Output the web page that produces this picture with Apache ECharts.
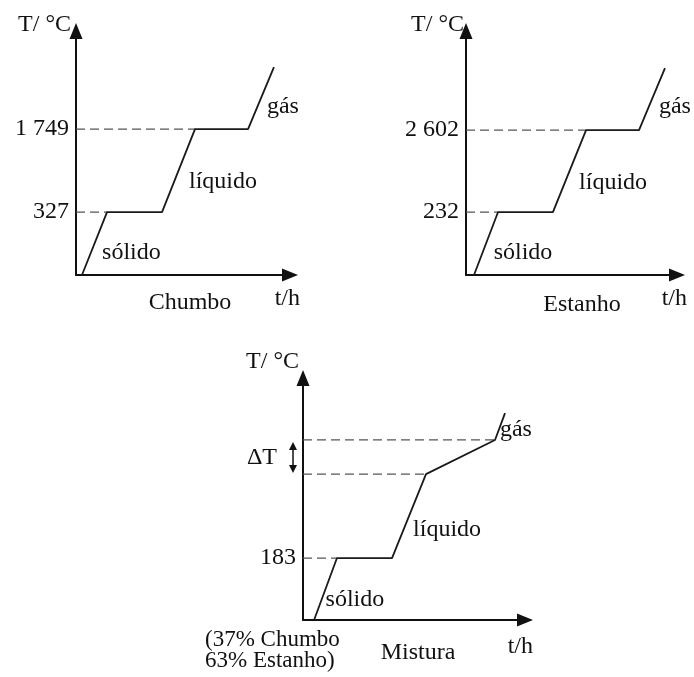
<!DOCTYPE html>
<html>
<head>
<meta charset="utf-8">
<script src="https://cdn.jsdelivr.net/npm/echarts@6/dist/echarts.min.js"></script>
<style>html,body{margin:0;padding:0;background:#fff}#main{width:694px;height:677px}</style>
</head>
<body>
<div id="main"></div>
<script>
// curvas de aquecimento (tempo e nivel em unidades do esquema, 0-100)
var chumboTempo = [2.8, 14.5, 40.2, 55.6, 80.4, 92.5];
var chumboNivel = [0, 25.8, 25.8, 59.8, 59.8, 85.2];
var chumboRotulos = ['327', '1 749'];
var estanhoTempo = [3.8, 15.2, 41.2, 56.9, 82, 94.3];
var estanhoNivel = [0, 25.8, 25.8, 59.4, 59.4, 84.8];
var estanhoRotulos = ['232', '2 602'];
var misturaTempo = [5, 15.3, 40.1, 55.4, 86.5, 91];
var misturaNivel = [0, 25.6, 25.6, 60.3, 74.4, 85.5];
var misturaRotulos = ['183'];
var deltaT = [-4.5, 73.6, 60.7];
var fases = ['sólido', 'líquido', 'gás'];
var chumboFasePos = [[25.9, 9], [68.7, 38.1], [96.7, 68.9]];
var estanhoFasePos = [[27, 9], [69.7, 37.7], [99, 68.9]];
var misturaFasePos = [[23.4, 8.3], [64.9, 37.2], [95.9, 78.5]];
var titulos = ['Chumbo', 'Estanho', 'Mistura'];
var composicao = '(37% Chumbo\n63% Estanho)';

var fonte = 'Liberation Serif';
var preto = '#111';

var myChart = echarts.init(document.getElementById('main'));

function eixoX(i, gap, pad){
    return {
        type: 'value', gridIndex: i, min: 0, max: 100,
        axisLine: {symbol: ['none', 'triangle'], symbolSize: [13, 16], lineStyle: {color: preto, width: 2}},
        axisTick: {show: false}, axisLabel: {show: false}, splitLine: {show: false},
        name: 't/h', nameLocation: 'end', nameGap: gap,
        nameTextStyle: {fontFamily: fonte, fontSize: 24, color: preto, align: 'right', verticalAlign: 'top', padding: [pad, 0, 0, 0]}
    };
}

function eixoY(i, marcas, rotulos, gap, padR){
    return {
        type: 'value', gridIndex: i, min: 0, max: 100,
        axisLine: {symbol: ['none', 'triangle'], symbolSize: [13, 16], lineStyle: {color: preto, width: 2}},
        axisTick: {show: false}, splitLine: {show: false},
        axisLabel: {
            customValues: marcas, margin: 7,
            fontFamily: fonte, fontSize: 24, color: preto,
            formatter: function(v){
                var k = 0;
                for (var j = 1; j < marcas.length; j++) if (Math.abs(marcas[j]-v) < Math.abs(marcas[k]-v)) k = j;
                return rotulos[k];
            }
        },
        name: 'T/ °C', nameLocation: 'end', nameGap: gap,
        nameTextStyle: {fontFamily: fonte, fontSize: 24, color: preto, align: 'right', verticalAlign: 'middle', padding: [0, padR, 0, 0]}
    };
}

function series(i, tempo, nivel, patamares, fasePos){
    var out = [];
    out.push({
        type: 'line', xAxisIndex: i, yAxisIndex: i, symbol: 'none', z: 4,
        data: tempo.map(function(t, k){ return [t, nivel[k]]; }),
        lineStyle: {color: '#1a1a1a', width: 1.8}
    });
    patamares.forEach(function(k){
        out.push({
            type: 'line', xAxisIndex: i, yAxisIndex: i, symbol: 'none', z: 3,
            data: [[0, nivel[k]], [tempo[k], nivel[k]]],
            lineStyle: {color: '#555', width: 1.3, type: [9, 5]}
        });
    });
    out.push({
        type: 'scatter', xAxisIndex: i, yAxisIndex: i, symbolSize: 0, clip: false, silent: true,
        itemStyle: {opacity: 1},
        data: fasePos.map(function(p, k){ return [p[0], p[1], fases[k]]; }),
        label: {show: true, position: 'inside', formatter: function(p){ return p.value[2]; },
            fontFamily: fonte, fontSize: 24, color: preto}
    });
    return out;
}

var allSeries = []
    .concat(series(0, chumboTempo, chumboNivel, [1, 3], chumboFasePos))
    .concat(series(1, estanhoTempo, estanhoNivel, [1, 3], estanhoFasePos))
    .concat(series(2, misturaTempo, misturaNivel, [1, 3, 4], misturaFasePos));

// seta dupla do intervalo de ebulição
allSeries.push({
    type: 'custom', xAxisIndex: 2, yAxisIndex: 2, clip: false, silent: true, z: 5,
    data: [deltaT],
    renderItem: function(params, api){
        var a = api.coord([api.value(0), api.value(1)]);
        var b = api.coord([api.value(0), api.value(2)]);
        var x = a[0], h = 8, w = 4;
        return {type: 'group', children: [
            {type: 'line', shape: {x1: x, y1: a[1] + h, x2: x, y2: b[1] - h}, style: {stroke: preto, lineWidth: 1.5}},
            {type: 'polygon', shape: {points: [[x, a[1]], [x - w, a[1] + h], [x + w, a[1] + h]]}, style: {fill: preto}},
            {type: 'polygon', shape: {points: [[x, b[1]], [x - w, b[1] - h], [x + w, b[1] - h]]}, style: {fill: preto}}
        ]};
    }
});
allSeries.push({
    type: 'scatter', xAxisIndex: 2, yAxisIndex: 2, symbolSize: 0, clip: false, silent: true,
    itemStyle: {opacity: 1},
    data: [[-18.5, 66.9, 'ΔT']],
    label: {show: true, position: 'inside', formatter: function(p){ return p.value[2]; },
        fontFamily: fonte, fontSize: 24, color: preto}
});

function texto(x, y, s){
    return {type: 'text', x: x, y: y, style: {text: s, font: '24px "' + fonte + '"', fill: preto,
        align: 'center', verticalAlign: 'middle'}};
}

var option = {
    animation: false,
    grid: [
        {left: 76, top: 31, width: 214, height: 244},
        {left: 466, top: 31, width: 211, height: 244},
        {left: 303, top: 378, width: 222, height: 242}
    ],
    xAxis: [eixoX(0, 10, 12), eixoX(1, 10, 12), eixoX(2, 8, 15)],
    yAxis: [
        eixoY(0, [chumboNivel[1], chumboNivel[3]], chumboRotulos, 6, 5),
        eixoY(1, [estanhoNivel[1], estanhoNivel[3]], estanhoRotulos, 6, 2),
        eixoY(2, [misturaNivel[1]], misturaRotulos, 16, 4)
    ],
    graphic: [
        texto(190, 303, titulos[0]),
        texto(582, 305, titulos[1]),
        texto(418, 653, titulos[2]),
        {type: 'text', x: 205, y: 650, style: {text: composicao, font: '23px "' + fonte + '"', fill: preto,
            align: 'left', verticalAlign: 'middle', lineHeight: 21}}
    ],
    series: allSeries
};
myChart.setOption(option);
</script>
</body>
</html>
